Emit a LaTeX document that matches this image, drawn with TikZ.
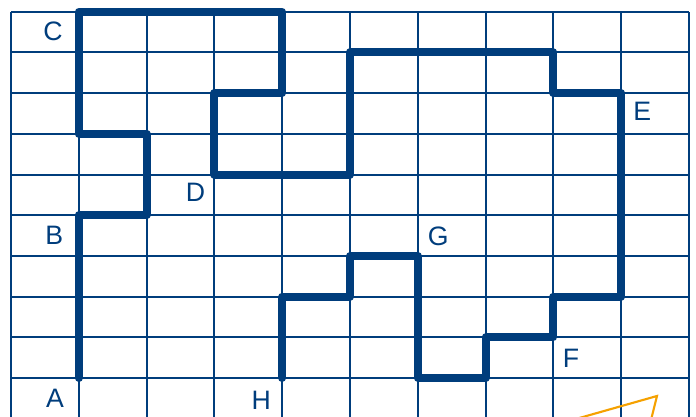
\documentclass[tikz,border=0pt]{standalone}
\usepackage{fontspec}
\setmainfont{Liberation Sans}
\definecolor{gridblue}{HTML}{003D7C}
\definecolor{routeblue}{HTML}{003D7C}
\definecolor{markorange}{HTML}{F5A100}
\tikzset{
  gridline/.style={gridblue, line width=1.5pt},
  route/.style={routeblue, line width=6pt, line join=round, line cap=round},
  ptlabel/.style={text=routeblue, font=\fontsize{20}{24}\selectfont, inner sep=0pt},
  orangemark/.style={markorange, line width=1.6pt, line join=miter}
}

\begin{document}
\begin{tikzpicture}[x=50.85pt, y=30.525pt]
  \useasboundingbox (-0.1622,-0.9337) rectangle (10.1032,9.2875);
  \clip (-0.1622,-0.9337) rectangle (10.1032,9.2875);
  % grid
  \foreach \i in {0,...,10}
    \draw[gridline] (\i,-1.2) -- (\i,9);
  \foreach \j in {0,...,9}
    \draw[gridline] (0,\j) -- (10,\j);
  % lettered points
  \coordinate (A) at (1,0);
  \coordinate (B) at (1,4);
  \coordinate (C) at (1,9);
  \coordinate (D) at (3,5);
  \coordinate (E) at (9,7);
  \coordinate (F) at (8,1);
  \coordinate (G) at (6,3);
  \coordinate (H) at (4,0);
  % route
  \draw[route] (A) -- (B) -- (2,4) -- (2,6) -- (1,6) -- (C) -- (4,9) -- (4,7)
    -- (3,7) -- (D) -- (5,5) -- (5,8) -- (8,8) -- (8,7) -- (E) -- (9,2)
    -- (8,2) -- (F) -- (7,1) -- (7,0) -- (6,0) -- (G) -- (5,3) -- (5,2)
    -- (4,2) -- (H);
  % labels
  \node[ptlabel] (labA) at (0.65,-0.49) {A};
  \node[ptlabel] (labB) at (0.64,3.51) {B};
  \node[ptlabel] (labC) at (0.62,8.52) {C};
  \node[ptlabel] (labD) at (2.72,4.55) {D};
  \node[ptlabel] (labE) at (9.31,6.54) {E};
  \node[ptlabel] (labF) at (8.26,0.49) {F};
  \node[ptlabel] (labG) at (6.30,3.47) {G};
  \node[ptlabel] (labH) at (3.69,-0.54) {H};
  % orange marker, cut off at the bottom edge
  \draw[orangemark] (8.342,-1.002) -- (9.528,-0.442) -- (9.439,-1.032);
\end{tikzpicture}
\end{document}
